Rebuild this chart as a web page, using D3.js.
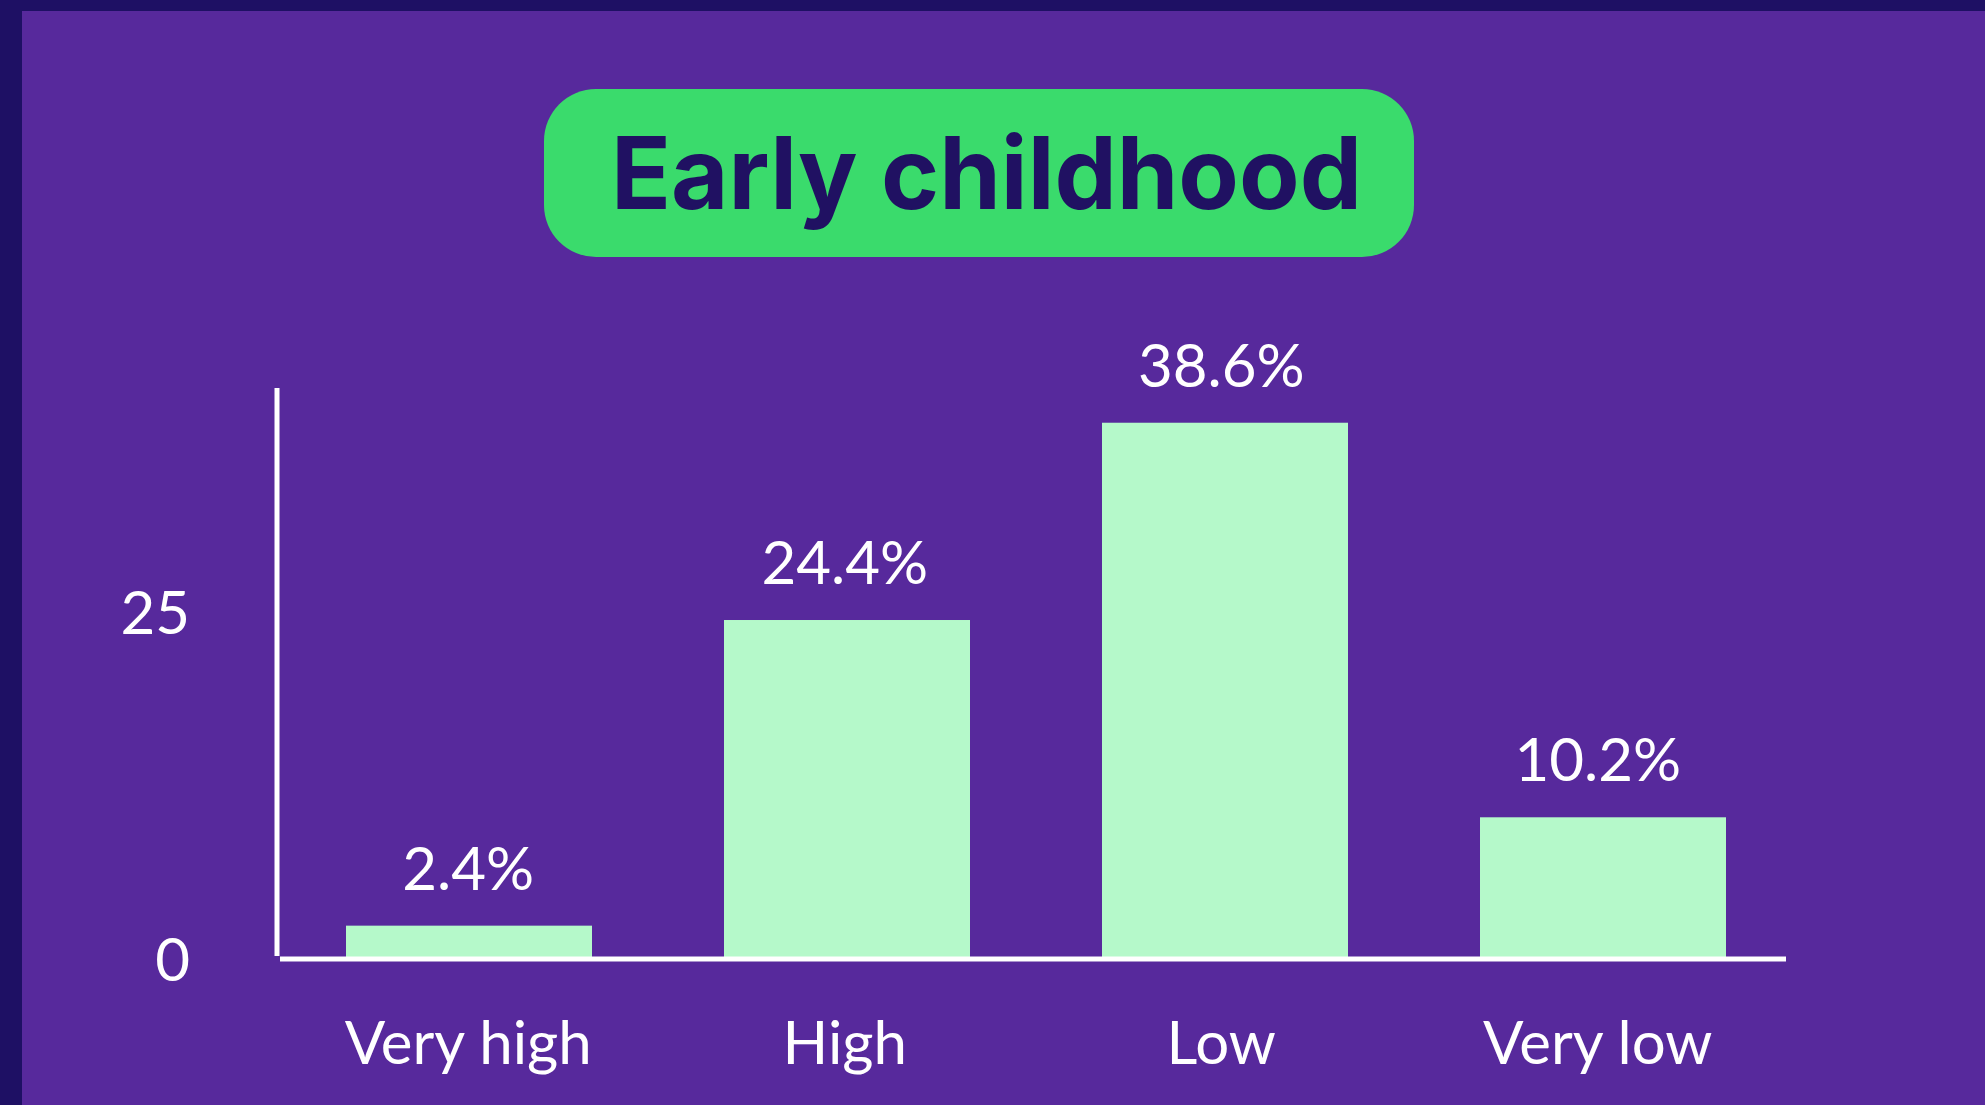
<!DOCTYPE html>
<html>
<head>
<meta charset="utf-8">
<script src="https://cdn.jsdelivr.net/npm/d3@7"></script>
<style>
  html, body { margin: 0; padding: 0; background: #1e1064; }
  svg { display: block; }
</style>
</head>
<body>
<script>
const title = "Early childhood";
const categories = ["Very high", "High", "Low", "Very low"];
const values = [2.4, 24.4, 38.6, 10.2];
const valueLabels = ["2.4%", "24.4%", "38.6%", "10.2%"];
const yTicks = [0, 25];

const W = 1985, H = 1105;
const svg = d3.select("body").append("svg").attr("width", W).attr("height", H);

svg.append("rect").attr("width", W).attr("height", H).attr("fill", "#1e1064");
svg.append("rect").attr("x", 22).attr("y", 11).attr("width", W - 22).attr("height", H - 11).attr("fill", "#57299c");

// Title pill
svg.append("rect").attr("x", 544).attr("y", 89).attr("width", 870).attr("height", 168)
  .attr("rx", 52).attr("ry", 52).attr("fill", "#3adb6c");
svg.append("text").attr("x", 611).attr("y", 209)
  .attr("font-family", "Inter, 'DejaVu Sans', sans-serif").attr("font-weight", 700)
  .attr("font-size", 100).attr("fill", "#201162")
  .attr("textLength", 751).attr("lengthAdjust", "spacingAndGlyphs")
  .text(title);

const x = d3.scaleBand().domain(categories).range([280, 1792]).paddingInner(0.3492).paddingOuter(0.1746);
const xl = d3.scaleBand().domain(categories).range([280, 1786]).paddingInner(0.3492).paddingOuter(0.1746);
const y = d3.scaleLinear().domain([0, 41.1]).range([959, 388]);

const font = "Lato, 'Open Sans', sans-serif";

// bars
svg.append("g").selectAll("rect").data(values).join("rect")
  .attr("x", (d, i) => x(categories[i]))
  .attr("width", x.bandwidth())
  .attr("y", d => y(d))
  .attr("height", d => y(0) - y(d))
  .attr("fill", "#b5f9ca");

// value labels
svg.append("g").selectAll("text").data(values).join("text")
  .attr("x", (d, i) => xl(categories[i]) + xl.bandwidth() / 2)
  .attr("y", d => y(d) - 36)
  .attr("text-anchor", "middle")
  .attr("font-family", font).attr("font-size", 60).attr("fill", "#ffffff")
  .text((d, i) => valueLabels[i]);

// y axis
const yAxis = d3.axisLeft(y).tickValues(yTicks).tickSize(0).tickPadding(0);
const gy = svg.append("g").attr("transform", "translate(190,0)").call(yAxis);
gy.select(".domain").remove();
gy.selectAll("text").attr("font-family", font).attr("font-size", 60).attr("fill", "#ffffff")
  .attr("dy", "0.36em");

// x axis labels
const xAxis = d3.axisBottom(xl).tickSize(0).tickPadding(0);
const gx = svg.append("g").attr("transform", "translate(0,1064)").call(xAxis);
gx.select(".domain").remove();
gx.selectAll("text").attr("font-family", font).attr("font-size", 60).attr("fill", "#ffffff")
  .attr("dy", 0);

// axis lines
svg.append("line").attr("x1", 277).attr("x2", 277).attr("y1", y(y.domain()[1])).attr("y2", y(0) - 3)
  .attr("stroke", "#ffffff").attr("stroke-width", 5);
svg.append("line").attr("x1", 280).attr("x2", 1786).attr("y1", y(0)).attr("y2", y(0))
  .attr("stroke", "#ffffff").attr("stroke-width", 5);
</script>
</body>
</html>
